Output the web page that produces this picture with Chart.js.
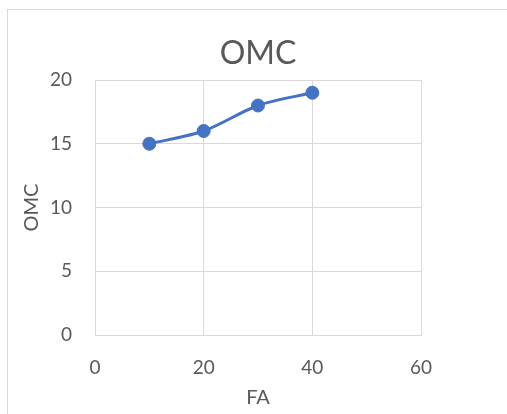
<!DOCTYPE html>
<html>
<head>
<meta charset="utf-8">
<script src="https://cdn.jsdelivr.net/npm/chart.js@4"></script>
<style>
  html, body { margin: 0; padding: 0; background: #fff; }
  canvas { display: block; }
</style>
</head>
<body>
<canvas id="omcChart" width="507" height="414"></canvas>
<script>
// FA content vs OMC
const faValues = [10, 20, 30, 40];
const omcValues = [15, 16, 18, 19];
const xTicks = [0, 20, 40, 60];
const yTicks = [0, 5, 10, 15, 20];
const chartTitle = "OMC";

const textColor = "#595959";
const gridColor = "#d9d9d9";
const fontFamily = "Lato, 'Open Sans', sans-serif";

// thin outer frame like the spreadsheet chart box
const framePlugin = {
  id: "frame",
  beforeDraw(chart) {
    const c = chart.ctx;
    c.save();
    c.fillStyle = "#fff";
    c.fillRect(0, 0, chart.width, chart.height);
    c.strokeStyle = gridColor;
    c.lineWidth = 1;
    c.strokeRect(7.5, 9.5, 700, 600);
    c.restore();
  }
};

// title centred over the plot area (excel style), not the whole canvas
const plotTitlePlugin = {
  id: "plotTitle",
  afterDraw(chart) {
    const c = chart.ctx;
    const area = chart.chartArea;
    c.save();
    c.fillStyle = textColor;
    c.font = "32px " + fontFamily;
    c.textAlign = "center";
    c.textBaseline = "middle";
    c.fillText(chartTitle, (area.left + area.right) / 2, 54);
    c.restore();
  }
};

const ctx = document.getElementById("omcChart").getContext("2d");
new Chart(ctx, {
  type: "scatter",
  data: {
    datasets: [{
      label: "OMC",
      data: faValues.map((x, i) => ({ x: x, y: omcValues[i] })),
      showLine: true,
      borderColor: "#4472C4",
      backgroundColor: "#4472C4",
      borderWidth: 3,
      tension: 0.3,
      pointRadius: 6.5,
      pointBorderWidth: 1,
      pointHoverRadius: 6.5
    }]
  },
  options: {
    responsive: false,
    animation: false,
    layout: { padding: { left: 0, top: 80, right: 86, bottom: 0 } },
    plugins: {
      legend: { display: false },
      tooltip: { enabled: false },
      title: { display: false }
    },
    scales: {
      x: {
        type: "linear",
        min: 0,
        max: 60,
        afterBuildTicks(axis) { axis.ticks = xTicks.map(v => ({ value: v })); },
        afterFit(axis) { axis.height = 79; },
        grid: { color: gridColor, drawTicks: false },
        border: { color: gridColor },
        ticks: {
          color: textColor,
          padding: 21,
          font: { family: fontFamily, size: 19 }
        },
        title: {
          display: true,
          text: "FA",
          color: textColor,
          font: { family: fontFamily, size: 20 },
          padding: { top: 0, bottom: 4 }
        }
      },
      y: {
        min: 0,
        max: 20,
        afterBuildTicks(axis) { axis.ticks = yTicks.map(v => ({ value: v })); },
        afterFit(axis) { axis.width = 95; },
        grid: { color: gridColor, drawTicks: false },
        border: { color: gridColor },
        ticks: {
          color: textColor,
          padding: 23,
          font: { family: fontFamily, size: 19 }
        },
        title: {
          display: true,
          text: "OMC",
          color: textColor,
          font: { family: fontFamily, size: 20 },
          padding: { top: 20, bottom: 0 }
        }
      }
    }
  },
  plugins: [framePlugin, plotTitlePlugin]
});
</script>
</body>
</html>
